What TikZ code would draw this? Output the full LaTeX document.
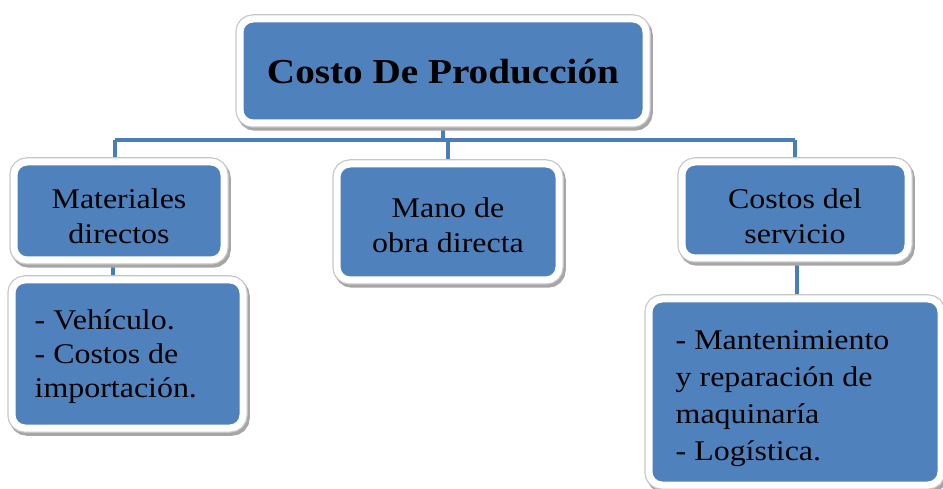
\documentclass[tikz,border=0pt]{standalone}
\usepackage{fontspec}
\setmainfont{Liberation Serif}[FakeStretch=1.12]
\usetikzlibrary{backgrounds}
\definecolor{boxblue}{HTML}{4F81BD}
\definecolor{lineblue}{HTML}{4A7EBB}
\tikzset{
  bluebox/.style={rounded corners=13pt, fill=boxblue, draw=white, line width=7pt,
    preaction={draw=black!35, line width=9.5pt, transform canvas={xshift=2pt,yshift=-3pt}},
    preaction={draw=gray!45, line width=9.5pt},
    inner sep=0pt},
  boxtext/.style={text=black, inner sep=0pt},
  conn/.style={draw=lineblue, line width=3.5pt},
  midfont/.style={font=\fontsize{28.5}{35}\selectfont, align=center},
  botfont/.style={font=\fontsize{28.5}{34}\selectfont, align=flush left}
}
\begin{document}
\begin{tikzpicture}[x=1pt,y=1pt]
\useasboundingbox (0,0) rectangle (943,-489);
% boxes
\node[bluebox, minimum width=406, minimum height=104] (top) at (443,-71) {};
\node[bluebox, minimum width=210, minimum height=98] (left) at (119,-211) {};
\node[bluebox, minimum width=222, minimum height=116] (mid) at (448,-222) {};
\node[bluebox, minimum width=226, minimum height=96] (right) at (795,-210) {};
\node[bluebox, minimum width=231, minimum height=148] (leftbot) at (127.5,-354) {};
\node[bluebox, minimum width=292, minimum height=186] (rightbot) at (795,-392) {};
% texts
\node[boxtext, font=\fontsize{35}{40}\selectfont\bfseries] (topT) at ([yshift=-1]top.center) {Costo De Producción};
\node[boxtext, midfont] (leftT) at ([yshift=-5]left.center) {Materiales\\directos};
\node[boxtext, midfont] (midT) at ([yshift=-3]mid.center) {Mano de\\obra directa};
\node[boxtext, midfont] (rightT) at ([yshift=-6]right.center) {Costos del\\servicio};
\node[boxtext, botfont, anchor=north west] (leftbotT) at ([xshift=26,yshift=-33]leftbot.north west)
  {- Vehículo.\\- Costos de\\importación.};
\node[boxtext, font=\fontsize{28.5}{37}\selectfont, align=flush left, anchor=north west] (rightbotT)
  at ([xshift=30,yshift=-35]rightbot.north west)
  {- Mantenimiento\\y reparación de\\maquinaría\\- Logística.};
% connectors
\coordinate (barL) at (115,-140);
\coordinate (barR) at (795,-140);
\begin{scope}[on background layer]
\draw[conn] (top.south) -- (top.south |- barL);
\draw[conn] (barL) -- (barR);
\draw[conn] (barL) -- (barL |- left.north);
\draw[conn] (mid.north |- barL) -- (mid.north);
\draw[conn] (barR) -- (barR |- right.north);
\draw[conn] ([xshift=-6pt]left.south) -- ([xshift=-6pt]left.south |- leftbot.north);
\draw[conn] ([xshift=2pt]right.south) -- ([xshift=2pt]right.south |- rightbot.north);
\end{scope}
\end{tikzpicture}
\end{document}
